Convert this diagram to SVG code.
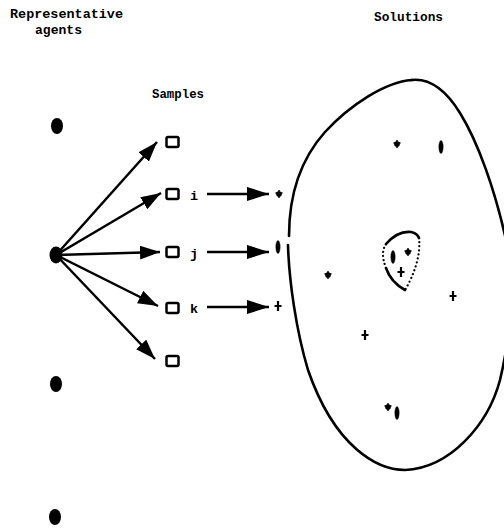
<svg xmlns="http://www.w3.org/2000/svg" width="504" height="529" viewBox="0 0 504 529">
  <style>
    .lbl { font-family: "Liberation Mono", "DejaVu Sans Mono", monospace; font-weight: bold; font-size: 13.5px; fill: #000; }
    .dot { fill: #000; }
    .sq { fill: none; stroke: #000; stroke-width: 2.5; }
    .edge { stroke: #000; stroke-width: 2.5; fill: none; }
    .head { fill: #000; }
    .bound { fill: none; stroke: #000; stroke-width: 2.6; stroke-linecap: round; }
    .dotted { fill: none; stroke: #000; stroke-width: 2.2; stroke-dasharray: 0.1 4; stroke-linecap: round; }
    .mark { fill: #000; stroke: #000; }
    .plus { stroke: #000; stroke-width: 2.2; fill: none; }
  </style>
  <defs>
    <marker id="arr" viewBox="0 0 20 14" refX="20" refY="7" markerWidth="20" markerHeight="14" markerUnits="userSpaceOnUse" orient="auto">
      <path d="M0,0 L20,7 L0,14 Z" class="head"/>
    </marker>
    <marker id="arrS" viewBox="0 0 22 14" refX="22" refY="7" markerWidth="22" markerHeight="14" markerUnits="userSpaceOnUse" orient="auto">
      <path d="M0,0 L22,7 L0,14 Z" class="head"/>
    </marker>
    <g id="star"><circle r="2.6" class="mark" stroke-width="0.6"/><path d="M0,-4 V4 M-3.5,-1 H3.5" stroke="#000" stroke-width="1.4"/></g>
    <g id="bar"><ellipse rx="2.2" ry="6.5" class="mark" stroke-width="0.4"/></g>
    <g id="plus"><path d="M0,-5 V5 M-3.5,0 H3.5" class="plus"/></g>
  </defs>

  <!-- headings -->
  <g id="titles">
    <text class="lbl" x="10" y="18" textLength="113" lengthAdjust="spacingAndGlyphs">Representative</text>
    <text class="lbl" x="35" y="34" textLength="47" lengthAdjust="spacingAndGlyphs">agents</text>
    <text class="lbl" x="152" y="98" textLength="52" lengthAdjust="spacingAndGlyphs">Samples</text>
    <text class="lbl" x="374" y="21" textLength="69" lengthAdjust="spacingAndGlyphs">Solutions</text>
  </g>

  <!-- representative agents -->
  <g id="agent1"><ellipse class="dot" cx="57" cy="126" rx="6" ry="8"/></g>
  <g id="agent2"><ellipse class="dot" cx="56" cy="255" rx="6.5" ry="8.5"/></g>
  <g id="agent3"><ellipse class="dot" cx="56" cy="384" rx="6" ry="8"/></g>
  <g id="agent4"><ellipse class="dot" cx="55" cy="517" rx="6" ry="8"/></g>

  <!-- samples -->
  <g id="sample1"><rect class="sq" x="166.5" y="137" width="12" height="10" rx="1.5"/></g>
  <g id="sample-i"><rect class="sq" x="166.5" y="189" width="12" height="10" rx="1.5"/><text class="lbl" x="190" y="200">i</text></g>
  <g id="sample-j"><rect class="sq" x="166.5" y="247" width="12" height="10" rx="1.5"/><text class="lbl" x="190" y="258">j</text></g>
  <g id="sample-k"><rect class="sq" x="166.5" y="303" width="12" height="10" rx="1.5"/><text class="lbl" x="190" y="313">k</text></g>
  <g id="sample5"><rect class="sq" x="166.5" y="356" width="12" height="10" rx="1.5"/></g>

  <!-- solution space -->
  <g id="solutions">
    <path class="bound" d="M412,80 C432,78 447,92 460,113 C478,142 495,190 506,240 C514,280 512,330 500,380 C488,425 450,468 405,470 C378,470 335,448 308,370 C296,330 289,280 288,245"/>
    <path class="bound" d="M289,236 C289,195 300,160 325,132 C350,105 385,82 412,80"/>
    <!-- neighbourhood cluster -->
    <path class="bound" stroke-width="2" d="M405,290 C396,285 389,277 386,268"/>
    <path class="dotted" d="M386,268 C382,258 382,250 386,244"/>
    <path class="bound" stroke-width="2" d="M386,244 C393,236 402,231 411,232 C415,233 418,235 419,238"/>
    <path class="dotted" d="M419,238 C421,255 414,275 405,290"/>
    <use href="#bar" x="393" y="257"/>
    <use href="#star" x="408" y="252"/>
    <use href="#plus" x="401" y="272"/>
    <!-- scattered solutions -->
    <use href="#star" x="397" y="144"/>
    <use href="#bar" x="441" y="147"/>
    <use href="#star" x="328" y="275"/>
    <use href="#plus" x="453" y="296"/>
    <use href="#plus" x="365" y="335"/>
    <use href="#star" x="388" y="407"/>
    <use href="#bar" x="397" y="413"/>
    <!-- solutions of samples i, j, k -->
    <use href="#star" x="279" y="194"/>
    <use href="#bar" x="278" y="247"/>
    <use href="#plus" x="278" y="306"/>
  </g>

  <!-- connectors -->
  <g id="connectors">
    <line class="edge" x1="56" y1="255" x2="157" y2="142" marker-end="url(#arr)"/>
    <line class="edge" x1="56" y1="255" x2="161" y2="193" marker-end="url(#arr)"/>
    <line class="edge" x1="56" y1="255" x2="160" y2="252" marker-end="url(#arr)"/>
    <line class="edge" x1="56" y1="255" x2="158" y2="306" marker-end="url(#arr)"/>
    <line class="edge" x1="56" y1="255" x2="155" y2="359" marker-end="url(#arr)"/>
    <line class="edge" x1="207" y1="194" x2="269" y2="194" marker-end="url(#arrS)"/>
    <line class="edge" x1="207" y1="252" x2="269" y2="252" marker-end="url(#arrS)"/>
    <line class="edge" x1="207" y1="307" x2="269" y2="307" marker-end="url(#arrS)"/>
  </g>
</svg>
